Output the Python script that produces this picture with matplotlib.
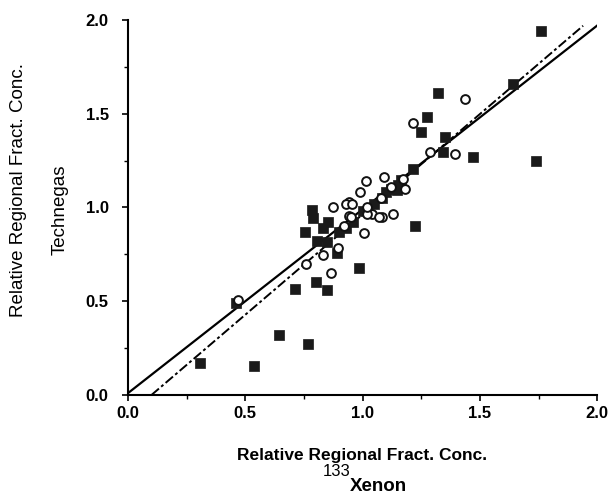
import matplotlib
matplotlib.use("Agg")
import matplotlib.pyplot as plt
import numpy as np
from matplotlib.ticker import MultipleLocator

plt.rcParams['font.family'] = ['Liberation Sans', 'DejaVu Sans']

# Filled squares (xenon, technegas)
sq_x = [1.76, 1.32, 1.275, 1.25, 1.35, 1.343, 1.47, 1.74, 1.64, 1.215, 1.164, 1.147,
        1.083, 1.224, 0.985, 0.785, 0.79, 0.755, 0.853, 0.83, 0.806, 0.85, 0.89,
        0.712, 0.80, 0.85, 0.644, 0.768, 0.307, 0.537, 0.46,
        0.90, 0.93, 0.96, 1.00, 1.05, 1.10, 1.15, 1.12]
sq_y = [1.94, 1.61, 1.48, 1.40, 1.376, 1.296, 1.27, 1.25, 1.66, 1.205, 1.147, 1.093,
        1.05, 0.90, 0.677, 0.987, 0.944, 0.869, 0.923, 0.89, 0.821, 0.816, 0.757,
        0.565, 0.603, 0.56, 0.32, 0.272, 0.17, 0.155, 0.49,
        0.87, 0.89, 0.92, 0.98, 1.02, 1.08, 1.12, 1.10]

# Open circles
ci_x = [1.437, 1.215, 1.288, 1.394, 1.09, 1.18, 1.04, 1.083, 1.13, 1.015, 0.99,
        0.94, 0.874, 0.93, 0.955, 0.94, 1.02, 1.07, 1.006, 0.83, 0.896, 0.866,
        0.76, 0.469, 0.92, 0.95, 1.02, 1.08, 1.12, 1.17]
ci_y = [1.58, 1.45, 1.296, 1.285, 1.16, 1.10, 0.965, 0.949, 0.965, 1.14, 1.08,
        1.03, 1.003, 1.02, 1.02, 0.955, 0.965, 0.95, 0.864, 0.745, 0.784, 0.65,
        0.70, 0.507, 0.90, 0.95, 1.00, 1.05, 1.11, 1.15]

# Regression lines: (x_start, x_end, slope, intercept)
solid_fit = [0.0, 2.0, 0.98, 0.01]
dashdot_fit = [0.10, 1.94, 1.07, -0.107]

ticks = [0.0, 0.5, 1.0, 1.5, 2.0]
tick_labels = ["0.0", "0.5", "1.0", "1.5", "2.0"]

fig = plt.figure(figsize=(6.10, 4.98), dpi=100)
ax = fig.add_axes([0.21, 0.207, 0.769, 0.753])

xs = np.array(solid_fit[:2])
ax.plot(xs, solid_fit[2] * xs + solid_fit[3], color='black', lw=1.6, zorder=2)
xd = np.array(dashdot_fit[:2])
ax.plot(xd, dashdot_fit[2] * xd + dashdot_fit[3], color='black', lw=1.4,
        linestyle=(0, (5, 1.5, 1.5, 1.5)), zorder=2)

ax.scatter(sq_x, sq_y, marker='s', s=55, color='#1a1a1a', edgecolors='#1a1a1a',
           linewidths=0.5, zorder=3)
ax.scatter(ci_x, ci_y, marker='o', s=40, facecolors='white', edgecolors='#111111',
           linewidths=1.4, zorder=4)

ax.set_xlim(0, 2.0)
ax.set_ylim(0, 2.0)
ax.spines['top'].set_visible(False)
ax.spines['right'].set_visible(False)
ax.spines['left'].set_linewidth(1.5)
ax.spines['bottom'].set_linewidth(1.5)
ax.set_xticks(ticks)
ax.set_xticklabels(tick_labels, fontweight='bold', fontsize=12)
ax.set_yticks(ticks)
ax.set_yticklabels(tick_labels, fontweight='bold', fontsize=12)
ax.xaxis.set_minor_locator(MultipleLocator(0.25))
ax.yaxis.set_minor_locator(MultipleLocator(0.25))
ax.tick_params(axis='both', which='major', direction='out', length=4, width=1.2)
ax.tick_params(axis='y', which='major', pad=10)
ax.tick_params(axis='x', which='major', pad=4)
ax.tick_params(axis='both', which='minor', direction='out', length=3, width=1.0)

fig.text(0.030, 0.618, "Relative Regional Fract. Conc.", rotation=90,
         ha='center', va='center', fontsize=13.5)
fig.text(0.099, 0.578, "Technegas", rotation=90, ha='center', va='center', fontsize=13.5)
fig.text(0.594, 0.086, "Relative Regional Fract. Conc.", ha='center', va='center',
         fontsize=12.5, fontweight='bold')
fig.text(0.574, 0.054, "133", ha='right', va='center', fontsize=12)
fig.text(0.574, 0.024, "Xenon", ha='left', va='center', fontsize=13.5,
         fontweight='bold')

fig.savefig("out.png", dpi=100)
